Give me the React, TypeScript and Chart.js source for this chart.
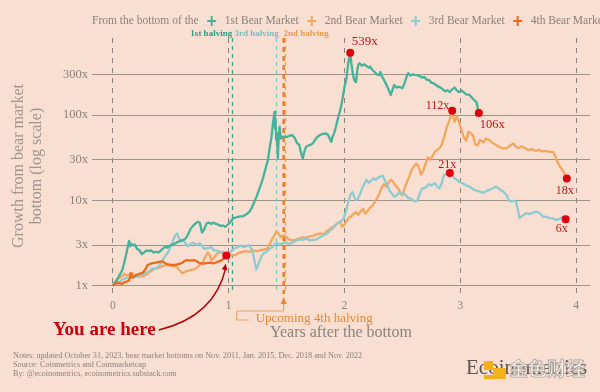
import React, { useEffect, useRef } from "react";
import { Chart, registerables } from "chart.js";

Chart.register(...registerables);

const SERIF = "'Liberation Serif', 'Times New Roman', serif";
const BG = "#f8dfd1";

const legendPrefix = "From the bottom of the";
const seriesNames = ["1st Bear Market", "2nd Bear Market", "3rd Bear Market", "4th Bear Market"];
const seriesColors = ["#46b29b", "#f5a65e", "#8ecbd1", "#ec6a1e"];

type Pt = [number, number];

// [years after bottom, growth multiple]
const bear1: Pt[] = [
  [0, 1], [0.02, 1.1], [0.04, 1.2], [0.06, 1.35], [0.08, 1.5], [0.1, 1.9], [0.12, 2.5], [0.14, 3.35],
  [0.15, 2.9], [0.16, 3.1], [0.18, 2.95], [0.19, 3.05], [0.21, 2.7], [0.23, 2.6], [0.25, 2.35], [0.27, 2.45],
  [0.29, 2.6], [0.31, 2.55], [0.33, 2.6], [0.35, 2.45], [0.37, 2.5], [0.39, 2.45], [0.41, 2.55], [0.43, 2.7],
  [0.45, 2.85], [0.47, 2.8], [0.49, 2.95], [0.51, 3.0], [0.53, 3.1], [0.55, 3.2], [0.57, 3.3], [0.59, 3.4],
  [0.61, 3.45], [0.63, 3.6], [0.65, 4.0], [0.67, 4.6], [0.69, 5.0], [0.71, 5.3], [0.73, 5.6], [0.75, 5.5],
  [0.77, 4.2], [0.79, 4.6], [0.81, 5.4], [0.83, 5.5], [0.85, 5.3], [0.87, 5.5], [0.89, 5.3], [0.91, 5.2],
  [0.93, 5.0], [0.95, 5.1], [0.97, 4.9], [1.0, 5.3], [1.02, 5.7], [1.04, 6.2], [1.06, 6.3], [1.08, 6.4],
  [1.1, 6.5], [1.12, 6.5], [1.14, 6.7], [1.16, 7.0], [1.18, 7.4], [1.2, 8.2], [1.22, 9.5], [1.24, 11],
  [1.26, 13], [1.28, 15.5], [1.3, 19], [1.32, 24], [1.34, 30], [1.355, 42], [1.37, 55], [1.38, 75],
  [1.39, 95], [1.396, 109], [1.4, 70], [1.405, 85], [1.41, 51], [1.415, 62], [1.425, 31.5], [1.43, 48],
  [1.44, 73], [1.45, 53], [1.47, 56], [1.5, 55], [1.52, 57], [1.55, 58], [1.57, 54], [1.59, 47],
  [1.61, 44.6], [1.625, 36], [1.64, 31], [1.655, 38], [1.67, 42.5], [1.69, 44], [1.71, 45], [1.727, 46.6],
  [1.75, 52], [1.77, 56], [1.785, 58], [1.81, 60], [1.84, 61], [1.86, 58], [1.875, 52], [1.886, 48.5],
  [1.895, 55], [1.91, 61], [1.925, 72], [1.94, 87], [1.97, 125], [1.985, 160], [2.0, 215], [2.015, 257],
  [2.03, 380], [2.04, 470], [2.05, 539], [2.06, 400], [2.07, 318], [2.08, 270], [2.09, 250], [2.1, 244],
  [2.11, 330], [2.12, 390], [2.13, 405], [2.15, 380], [2.17, 395], [2.19, 375], [2.21, 360], [2.22, 370],
  [2.24, 340], [2.26, 320], [2.28, 300], [2.3, 294], [2.31, 320], [2.32, 290], [2.34, 260], [2.36, 230],
  [2.38, 200], [2.4, 172], [2.41, 190], [2.43, 225], [2.45, 210], [2.47, 215], [2.5, 206], [2.52, 240],
  [2.54, 290], [2.55, 310], [2.57, 290], [2.59, 300], [2.61, 295], [2.63, 294], [2.65, 285], [2.67, 275],
  [2.69, 280], [2.71, 260], [2.73, 257], [2.75, 240], [2.77, 235], [2.79, 225], [2.81, 215], [2.83, 210],
  [2.85, 200], [2.87, 190], [2.89, 195], [2.91, 186], [2.93, 200], [2.95, 210], [2.97, 195], [2.99, 186],
  [3.01, 195], [3.03, 185], [3.05, 175], [3.08, 172], [3.1, 160], [3.12, 150], [3.14, 142], [3.16, 106],
];

const bear2: Pt[] = [
  [0, 1], [0.02, 1.1], [0.04, 1.2], [0.06, 1.24], [0.08, 1.3], [0.1, 1.38], [0.12, 1.32], [0.14, 1.35],
  [0.16, 1.42], [0.18, 1.36], [0.2, 1.3], [0.22, 1.27], [0.24, 1.3], [0.26, 1.29], [0.28, 1.33], [0.3, 1.38],
  [0.32, 1.45], [0.345, 1.54], [0.37, 1.6], [0.4, 1.62], [0.43, 1.7], [0.46, 1.76], [0.49, 1.72], [0.52, 1.7],
  [0.55, 1.68], [0.57, 1.55], [0.6, 1.4], [0.62, 1.45], [0.65, 1.5], [0.69, 1.54], [0.72, 1.6], [0.75, 1.75],
  [0.78, 1.92], [0.8, 2.2], [0.82, 2.45], [0.835, 2.3], [0.85, 2.0], [0.87, 2.1], [0.89, 2.3], [0.92, 2.5],
  [0.94, 2.45], [0.96, 2.3], [0.98, 2.35], [1.0, 2.4], [1.03, 2.25], [1.06, 2.3], [1.09, 2.45], [1.12, 2.5],
  [1.15, 2.55], [1.18, 2.5], [1.21, 2.6], [1.24, 2.55], [1.27, 2.6], [1.3, 2.65], [1.33, 2.7], [1.35, 3.0],
  [1.37, 3.4], [1.39, 3.8], [1.41, 4.3], [1.43, 4.1], [1.45, 3.7], [1.47, 3.9], [1.49, 3.8], [1.52, 3.5],
  [1.55, 3.4], [1.58, 3.45], [1.61, 3.6], [1.64, 3.7], [1.67, 3.65], [1.7, 3.8], [1.73, 3.85], [1.76, 4.0],
  [1.79, 4.1], [1.82, 4.0], [1.85, 4.4], [1.88, 4.7], [1.91, 5.0], [1.94, 5.4], [1.96, 5.6], [1.98, 4.9],
  [2.0, 5.2], [2.02, 5.8], [2.04, 6.3], [2.06, 6.5], [2.08, 7.0], [2.1, 7.3], [2.12, 6.8], [2.14, 7.4],
  [2.16, 8.0], [2.18, 7.0], [2.2, 7.5], [2.22, 8.2], [2.24, 8.6], [2.26, 9.5], [2.28, 10.5], [2.3, 12],
  [2.32, 14], [2.34, 15.5], [2.36, 14.5], [2.38, 16], [2.4, 17.5], [2.42, 16.5], [2.44, 15], [2.46, 14],
  [2.48, 12.5], [2.5, 11.5], [2.52, 14], [2.54, 16.5], [2.56, 19], [2.58, 23], [2.6, 25], [2.62, 27],
  [2.64, 25], [2.66, 20], [2.68, 22], [2.7, 27], [2.72, 32], [2.74, 30], [2.76, 33], [2.78, 37],
  [2.8, 39], [2.82, 41], [2.84, 45], [2.86, 55], [2.88, 70], [2.9, 82], [2.92, 100], [2.93, 112],
  [2.95, 83], [2.97, 96], [2.98, 90], [3.0, 73], [3.03, 55], [3.05, 50], [3.07, 64], [3.09, 61],
  [3.11, 58], [3.13, 45], [3.15, 44.6], [3.17, 51], [3.2, 48], [3.22, 53], [3.25, 51], [3.28, 47],
  [3.31, 44.6], [3.34, 42], [3.37, 40.7], [3.4, 41], [3.43, 44], [3.46, 46.6], [3.48, 42.5], [3.5, 41],
  [3.53, 43], [3.56, 40.7], [3.59, 39], [3.62, 40], [3.65, 38], [3.68, 39], [3.71, 37.5], [3.74, 38],
  [3.77, 37], [3.8, 37], [3.82, 33], [3.83, 30], [3.86, 25], [3.89, 21.7], [3.92, 18],
];

const bear3: Pt[] = [
  [0, 1], [0.02, 1.08], [0.04, 1.12], [0.06, 1.1], [0.08, 1.18], [0.1, 1.2], [0.12, 1.24], [0.14, 1.22],
  [0.16, 1.26], [0.18, 1.25], [0.2, 1.29], [0.22, 1.3], [0.24, 1.33], [0.26, 1.36], [0.28, 1.4], [0.3, 1.45],
  [0.32, 1.5], [0.34, 1.6], [0.36, 1.58], [0.38, 1.62], [0.4, 1.7], [0.42, 1.9], [0.44, 2.1], [0.46, 2.3],
  [0.48, 2.5], [0.5, 2.9], [0.52, 3.4], [0.54, 3.9], [0.555, 4.1], [0.57, 3.6], [0.59, 3.3], [0.61, 3.45],
  [0.63, 3.1], [0.65, 2.9], [0.67, 3.1], [0.69, 3.2], [0.71, 3.1], [0.73, 3.0], [0.75, 3.15], [0.77, 2.9],
  [0.79, 2.7], [0.81, 2.75], [0.83, 2.76], [0.85, 2.85], [0.87, 2.6], [0.89, 2.6], [0.91, 2.55], [0.93, 2.45],
  [0.95, 2.5], [0.97, 2.35], [0.99, 2.3], [1.01, 2.45], [1.03, 2.6], [1.05, 2.75], [1.07, 2.8], [1.09, 2.9],
  [1.11, 2.95], [1.13, 2.85], [1.15, 2.9], [1.17, 3.0], [1.19, 2.8], [1.21, 2.4], [1.23, 1.75], [1.24, 1.55],
  [1.26, 1.85], [1.28, 2.15], [1.3, 2.4], [1.32, 2.45], [1.34, 2.6], [1.36, 2.76], [1.38, 2.85], [1.4, 3.1],
  [1.42, 3.15], [1.44, 3.05], [1.46, 3.1], [1.48, 3.2], [1.5, 3.15], [1.53, 3.1], [1.56, 3.25], [1.59, 3.4],
  [1.61, 3.5], [1.64, 3.45], [1.67, 3.6], [1.7, 3.4], [1.73, 3.45], [1.76, 3.5], [1.79, 3.7], [1.82, 3.9],
  [1.85, 4.1], [1.88, 4.5], [1.9, 4.7], [1.93, 5.3], [1.96, 5.6], [1.99, 6.0], [2.01, 7.2], [2.03, 9.3],
  [2.05, 11.5], [2.07, 12.5], [2.09, 10.5], [2.11, 10.0], [2.13, 11.5], [2.15, 13.5], [2.17, 15.5], [2.19, 17.5],
  [2.21, 16], [2.23, 17], [2.25, 18], [2.27, 17.5], [2.29, 18.5], [2.31, 19], [2.33, 19.5], [2.35, 17],
  [2.37, 15], [2.39, 13], [2.41, 12], [2.43, 11], [2.45, 11.5], [2.47, 12.3], [2.49, 11.8], [2.51, 12.2],
  [2.53, 11.5], [2.55, 10.6], [2.57, 10.6], [2.59, 10.0], [2.61, 9.7], [2.63, 9.9], [2.65, 12.0], [2.67, 13.8],
  [2.69, 13.8], [2.71, 14.5], [2.73, 15.5], [2.75, 15.0], [2.78, 15.9], [2.8, 14.5], [2.82, 13.8], [2.84, 16],
  [2.86, 19.9], [2.88, 20.5], [2.91, 21], [2.93, 19.5], [2.95, 18.2], [2.97, 17.5], [2.99, 16.5], [3.02, 15.9],
  [3.05, 15], [3.08, 14.5], [3.11, 13.5], [3.14, 13], [3.17, 12.7], [3.2, 12.3], [3.23, 13], [3.25, 13.3],
  [3.28, 13.8], [3.31, 14.5], [3.34, 13.5], [3.37, 12.7], [3.4, 11.5], [3.42, 10], [3.44, 9.7], [3.46, 9.9],
  [3.48, 9.7], [3.5, 7.5], [3.51, 6.2], [3.53, 6.5], [3.55, 6.8], [3.57, 7.1], [3.6, 6.9], [3.63, 7.2],
  [3.66, 7.4], [3.69, 7.0], [3.71, 6.5], [3.74, 6.4], [3.77, 6.2], [3.8, 6.1], [3.83, 5.9], [3.86, 6.1],
  [3.89, 6.5], [3.91, 6],
];

const bear4: Pt[] = [
  [0, 1], [0.02, 1.05], [0.04, 1.08], [0.06, 1.07], [0.08, 1.05], [0.1, 1.1], [0.12, 1.12], [0.14, 1.15],
  [0.155, 1.4], [0.17, 1.24], [0.19, 1.3], [0.21, 1.35], [0.24, 1.4], [0.26, 1.42], [0.28, 1.55], [0.3, 1.75],
  [0.32, 1.8], [0.345, 1.84], [0.37, 1.86], [0.4, 1.9], [0.43, 1.93], [0.46, 1.8], [0.49, 1.77], [0.52, 1.75],
  [0.55, 1.77], [0.58, 1.82], [0.6, 1.85], [0.62, 1.96], [0.64, 2.0], [0.67, 1.97], [0.7, 2.0], [0.72, 1.95],
  [0.75, 1.84], [0.78, 1.81], [0.81, 1.84], [0.84, 1.86], [0.87, 1.83], [0.89, 1.87], [0.91, 1.92], [0.93, 1.95],
  [0.95, 2.05], [0.97, 2.18], [0.98, 2.26],
];

const yTicks = [1, 3, 10, 30, 100, 300];
const xTicks = [0, 1, 2, 3, 4];
const halvingNames = ["1st halving", "3rd halving", "2nd halving"];
const halvingYears = [1.03, 1.41, 1.49];
const halvingColors = ["#3aa58e", "#86c4cb", "#f3a04f"];
const halvingLabelColors = ["#2f9c86", "#7dbcc3", "#ef9a45"];
const upcomingHalvingYear = 1.475;
const upcomingLabel = "Upcoming 4th halving";
const youAreHere = "You are here";
const xTitle = "Years after the bottom";
const yTitle = ["Growth from bear market", "bottom (log scale)"];
const noteLines = [
  "Notes: updated October 31, 2023, bear market bottoms on Nov. 2011, Jan. 2015, Dec. 2018 and Nov. 2022",
  "Source: Coinmetrics and Coinmarketcap",
  "By: @ecoinometrics, ecoinometrics.substack.com",
];
const brand = "Ecoinometrics";
const watermark = "金色财经";

const peakOf = (s: Pt[]) => s.reduce((m, p) => (p[1] > m[1] ? p : m), s[0]);
const lastOf = (s: Pt[]) => s[s.length - 1];

const markPoints: Pt[] = [
  peakOf(bear1), lastOf(bear1), peakOf(bear2), lastOf(bear2), peakOf(bear3), lastOf(bear3), lastOf(bear4),
];

const callouts = [
  { pt: peakOf(bear1), dx: 1.5, dy: -11.5, align: "left", size: 13 },
  { pt: lastOf(bear1), dx: 1, dy: 11.5, align: "left", size: 12.5 },
  { pt: peakOf(bear2), dx: -3, dy: -5, align: "right", size: 12 },
  { pt: lastOf(bear2), dx: -2, dy: 12.5, align: "center", size: 12 },
  { pt: peakOf(bear3), dx: -2.5, dy: -8, align: "center", size: 12 },
  { pt: lastOf(bear3), dx: -4, dy: 9.5, align: "center", size: 12 },
];

const toXY = (s: Pt[]) => s.map(([x, y]) => ({ x, y }));

const overlay = {
  id: "overlay",
  beforeDraw(chart: any) {
    const { ctx, width, height } = chart;
    ctx.save();
    ctx.fillStyle = BG;
    ctx.fillRect(0, 0, width, height);
    ctx.restore();
  },
  beforeDatasetsDraw(chart: any) {
    const { ctx, chartArea: a, scales } = chart;
    const x = scales.x;
    ctx.save();
    halvingYears.forEach((yr, i) => {
      const px = Math.round(x.getPixelForValue(yr)) + 0.5;
      ctx.strokeStyle = halvingColors[i];
      ctx.lineWidth = 1.3;
      ctx.setLineDash([4, 4]);
      ctx.beginPath();
      ctx.moveTo(px, a.top);
      ctx.lineTo(px, a.bottom);
      ctx.stroke();
    });
    const ux = x.getPixelForValue(upcomingHalvingYear);
    ctx.strokeStyle = "#ea7a2a";
    ctx.lineWidth = 2.4;
    ctx.setLineDash([5, 4]);
    ctx.beginPath();
    ctx.moveTo(ux, a.top);
    ctx.lineTo(ux, a.bottom);
    ctx.stroke();
    ctx.restore();
  },
  afterDraw(chart: any) {
    const { ctx, chartArea: a, scales } = chart;
    const x = scales.x;
    const y = scales.y;
    ctx.save();
    ctx.textBaseline = "middle";

    // legend
    ctx.font = `11.5px ${SERIF}`;
    ctx.fillStyle = "#8b827b";
    ctx.textAlign = "left";
    let lx = a.left;
    const ly = 21;
    ctx.fillText(legendPrefix, lx, ly);
    lx += ctx.measureText(legendPrefix).width;
    seriesNames.forEach((name, i) => {
      lx += 13;
      ctx.strokeStyle = seriesColors[i];
      ctx.lineWidth = 2;
      ctx.beginPath();
      ctx.moveTo(lx - 4.5, ly);
      ctx.lineTo(lx + 4.5, ly);
      ctx.moveTo(lx, ly - 5);
      ctx.lineTo(lx, ly + 5);
      ctx.stroke();
      lx += 13;
      ctx.fillStyle = "#8b827b";
      ctx.fillText(name, lx, ly);
      lx += ctx.measureText(name).width;
    });

    // halving labels
    ctx.font = `bold 9px ${SERIF}`;
    halvingYears.forEach((yr, i) => {
      const px = x.getPixelForValue(yr);
      ctx.fillStyle = halvingLabelColors[i];
      if (i === 2) {
        ctx.textAlign = "left";
        ctx.fillText(halvingNames[i], px - 2, 34);
      } else {
        ctx.textAlign = "right";
        ctx.fillText(halvingNames[i], px + (i === 0 ? 0 : 2.5), 34);
      }
    });

    // callout labels
    ctx.fillStyle = "#c0141b";
    callouts.forEach((c) => {
      const px = x.getPixelForValue(c.pt[0]);
      const py = y.getPixelForValue(c.pt[1]);
      ctx.font = `${c.size}px ${SERIF}`;
      ctx.textAlign = c.align as CanvasTextAlign;
      ctx.fillText(`${Math.round(c.pt[1])}x`, px + c.dx, py + c.dy);
    });

    // upcoming halving annotation
    const ux = x.getPixelForValue(upcomingHalvingYear);
    const tipY = a.bottom + 3;
    const lineY = a.bottom + 17;
    const bx = ux - 47;
    ctx.strokeStyle = "#eba46a";
    ctx.fillStyle = "#eba46a";
    ctx.lineWidth = 1.2;
    ctx.setLineDash([]);
    ctx.beginPath();
    ctx.moveTo(ux, lineY);
    ctx.lineTo(ux, tipY + 4);
    ctx.moveTo(ux, lineY);
    ctx.lineTo(bx, lineY);
    ctx.lineTo(bx, lineY + 9);
    ctx.lineTo(bx + 12, lineY + 9);
    ctx.stroke();
    ctx.fillStyle = "#e8873a";
    ctx.beginPath();
    ctx.moveTo(ux, tipY);
    ctx.lineTo(ux - 3, tipY + 7);
    ctx.lineTo(ux + 3, tipY + 7);
    ctx.closePath();
    ctx.fill();
    ctx.font = `13px ${SERIF}`;
    ctx.textAlign = "left";
    ctx.fillStyle = "#e8873a";
    ctx.fillText(upcomingLabel, bx + 19, lineY + 8);

    // you are here
    const here = lastOf(bear4);
    const hx = x.getPixelForValue(here[0]);
    const hy = y.getPixelForValue(here[1]);
    ctx.font = `bold 19px ${SERIF}`;
    ctx.fillStyle = "#c8000c";
    ctx.textAlign = "left";
    const tx = 53;
    const ty = 330;
    ctx.fillText(youAreHere, tx, ty);
    const sx = tx + ctx.measureText(youAreHere).width + 3;
    const ex = hx - 0.5;
    const ey = hy + 9;
    const cx = ex - 11;
    const cy = ey + 52;
    ctx.strokeStyle = "#b3000a";
    ctx.lineWidth = 1.4;
    ctx.beginPath();
    ctx.moveTo(sx, ty);
    ctx.quadraticCurveTo(cx, cy, ex, ey + 3);
    ctx.stroke();
    const ang = Math.atan2(ey - cy, ex - cx);
    ctx.fillStyle = "#b3000a";
    ctx.beginPath();
    ctx.moveTo(ex, ey - 1);
    ctx.lineTo(ex - 7 * Math.cos(ang - 0.4), ey - 1 - 7 * Math.sin(ang - 0.4));
    ctx.lineTo(ex - 7 * Math.cos(ang + 0.4), ey - 1 - 7 * Math.sin(ang + 0.4));
    ctx.closePath();
    ctx.fill();

    // notes
    ctx.font = `8.2px ${SERIF}`;
    ctx.fillStyle = "#8b827b";
    ctx.textAlign = "left";
    noteLines.forEach((t, i) => ctx.fillText(t, 13, 356 + i * 9));

    // brand + watermark
    ctx.font = `21px ${SERIF}`;
    ctx.fillStyle = "#5e5752";
    ctx.fillText(brand, 466, 368);
    ctx.fillStyle = "#f2b21c";
    ctx.fillRect(484, 361, 9, 9);
    ctx.fillRect(493, 368, 13, 11);
    ctx.fillRect(484, 375, 12, 4);
    ctx.font = `bold 19px 'Noto Sans CJK SC', sans-serif`;
    ctx.fillStyle = "rgba(250,244,240,0.85)";
    ctx.strokeStyle = "#aaa29c";
    ctx.lineWidth = 0.8;
    ctx.fillText(watermark, 509, 369);
    ctx.strokeText(watermark, 509, 369);
    ctx.restore();
  },
};

export default function App() {
  const ref = useRef<HTMLCanvasElement | null>(null);
  useEffect(() => {
    document.body.style.margin = "0";
    const canvas = ref.current;
    if (!canvas) return;
    const lineDs = (s: Pt[], i: number) => ({
      label: seriesNames[i],
      data: toXY(s),
      borderColor: seriesColors[i],
      backgroundColor: seriesColors[i],
      borderWidth: 2.3,
      pointRadius: 0,
      pointHoverRadius: 0,
      tension: 0,
      borderJoinStyle: "round" as const,
    });
    const chart = new Chart(canvas, {
      type: "line",
      data: {
        datasets: [
          {
            label: "marks",
            data: toXY(markPoints),
            showLine: false,
            pointRadius: 4,
            pointHoverRadius: 4,
            pointBackgroundColor: "#e0000d",
            pointBorderWidth: 0,
            borderColor: "#e0000d",
          } as any,
          lineDs(bear4, 3),
          lineDs(bear1, 0),
          lineDs(bear3, 2),
          lineDs(bear2, 1),
        ],
      },
      options: {
        animation: false,
        responsive: false,
        maintainAspectRatio: false,
        events: [],
        layout: { padding: { left: 0, right: 10, top: 38, bottom: 0 } },
        plugins: { legend: { display: false }, tooltip: { enabled: false } },
        scales: {
          x: {
            type: "linear",
            min: -0.18,
            max: 4.12,
            afterBuildTicks: (s: any) => {
              s.ticks = xTicks.map((v) => ({ value: v }));
            },
            afterFit: (s: any) => {
              s.height = 98;
            },
            ticks: {
              color: "#8b827b",
              font: { family: SERIF, size: 11.5 },
              padding: 5,
              callback: (v: any) => String(v),
            },
            grid: { color: "#8a817b", lineWidth: 1, drawTicks: false },
            border: { display: false, dash: [5, 5] },
            title: {
              display: true,
              text: xTitle,
              color: "#8c837d",
              font: { family: SERIF, size: 16, lineHeight: 1.1 },
              padding: { top: 0, bottom: 50 },
            },
          },
          y: {
            type: "logarithmic",
            min: 0.8,
            max: 800,
            afterBuildTicks: (s: any) => {
              s.ticks = yTicks.map((v) => ({ value: v }));
            },
            afterFit: (s: any) => {
              s.width = 92;
            },
            ticks: {
              color: "#8b827b",
              font: { family: SERIF, size: 12.5 },
              padding: 4,
              callback: (v: any) => `${v}x`,
            },
            grid: { color: "#9d938b", lineWidth: 1, drawTicks: false },
            border: { display: false },
            title: {
              display: true,
              text: yTitle,
              color: "#a0968f",
              font: { family: SERIF, size: 16, lineHeight: 1.1 },
              padding: { top: 10, bottom: 0 },
            },
          },
        },
      },
      plugins: [overlay],
    });
    return () => chart.destroy();
  }, []);
  return (
    <div style={{ position: "fixed", left: 0, top: 0, width: 600, height: 392, background: BG }}>
      <canvas ref={ref} width={600} height={392} style={{ display: "block" }} />
    </div>
  );
}
